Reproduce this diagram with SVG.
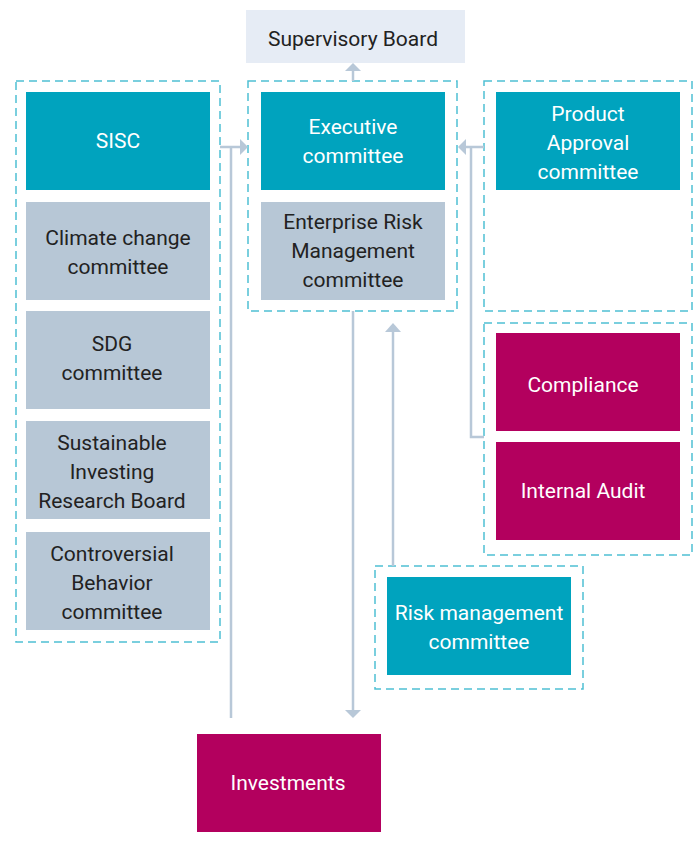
<svg xmlns="http://www.w3.org/2000/svg" width="697" height="847" viewBox="0 0 697 847">
<style>
.t{fill:#00a3be}.g{fill:#b7c7d6}.m{fill:#b3005e}
.dash{fill:none;stroke:#4fc0d3;stroke-width:1.5;stroke-dasharray:8 5}
text{font-family:Roboto,"Liberation Sans",sans-serif;font-size:21px;text-anchor:middle}
.w{fill:#ffffff}.d{fill:#222222}
.c{fill:none;stroke:#b8c8d8;stroke-width:2.5}
.ah{fill:#b8c8d8}
</style>
<rect width="697" height="847" fill="#ffffff"/>
<g id="groups">
<rect class="dash" x="16" y="81" width="204" height="561"/>
<rect class="dash" x="248" y="81" width="209" height="230"/>
<rect class="dash" x="484" y="81" width="208" height="230"/>
<rect class="dash" x="484" y="323" width="208" height="232"/>
<rect class="dash" x="375" y="566" width="208" height="123"/>
</g>
<g id="connectors">
<path class="c" d="M353 81V70"/>
<polygon class="ah" points="345,71 361,71 353,63"/>
<path class="c" d="M231 718V147M220 147H241"/>
<polygon class="ah" points="240,139 240,155 248,147"/>
<path class="c" d="M484 147H465M471 147V437H484"/>
<polygon class="ah" points="466,139 466,155 458,147"/>
<path class="c" d="M353 311V711"/>
<polygon class="ah" points="345,710 361,710 353,718"/>
<path class="c" d="M393 566V331"/>
<polygon class="ah" points="385,332 401,332 393,323"/>
</g>
<g id="supervisory-board"><rect x="246" y="10" width="219" height="53" fill="#e6ecf5"/><text class="d" x="353" y="46">Supervisory Board</text></g>
<g id="sisc"><rect class="t" x="26" y="92" width="184" height="98"/><text class="w" x="118" y="148">SISC</text></g>
<g id="climate-change"><rect class="g" x="26" y="202" width="184" height="98"/><text class="d" x="118" y="245">Climate change</text><text class="d" x="118" y="274">committee</text></g>
<g id="sdg"><rect class="g" x="26" y="311" width="184" height="98"/><text class="d" x="112" y="351">SDG</text><text class="d" x="112" y="380">committee</text></g>
<g id="sirb"><rect class="g" x="26" y="421" width="184" height="98"/><text class="d" x="112" y="450">Sustainable</text><text class="d" x="112" y="479">Investing</text><text class="d" x="112" y="508">Research Board</text></g>
<g id="controversial"><rect class="g" x="26" y="532" width="184" height="98"/><text class="d" x="112" y="561">Controversial</text><text class="d" x="112" y="590">Behavior</text><text class="d" x="112" y="619">committee</text></g>
<g id="executive"><rect class="t" x="261" y="92" width="184" height="98"/><text class="w" x="353" y="134">Executive</text><text class="w" x="353" y="163">committee</text></g>
<g id="erm"><rect class="g" x="261" y="202" width="184" height="98"/><text class="d" x="353" y="229">Enterprise Risk</text><text class="d" x="353" y="258">Management</text><text class="d" x="353" y="287">committee</text></g>
<g id="product-approval"><rect class="t" x="496" y="92" width="184" height="98"/><text class="w" x="588" y="121">Product</text><text class="w" x="588" y="150">Approval</text><text class="w" x="588" y="179">committee</text></g>
<g id="compliance"><rect class="m" x="496" y="333" width="184" height="98"/><text class="w" x="583" y="392">Compliance</text></g>
<g id="internal-audit"><rect class="m" x="496" y="442" width="184" height="98"/><text class="w" x="583" y="498">Internal Audit</text></g>
<g id="risk-management"><rect class="t" x="387" y="577" width="184" height="98"/><text class="w" x="479" y="620">Risk management</text><text class="w" x="479" y="649">committee</text></g>
<g id="investments"><rect class="m" x="197" y="734" width="184" height="98"/><text class="w" x="288" y="790">Investments</text></g>
</svg>
